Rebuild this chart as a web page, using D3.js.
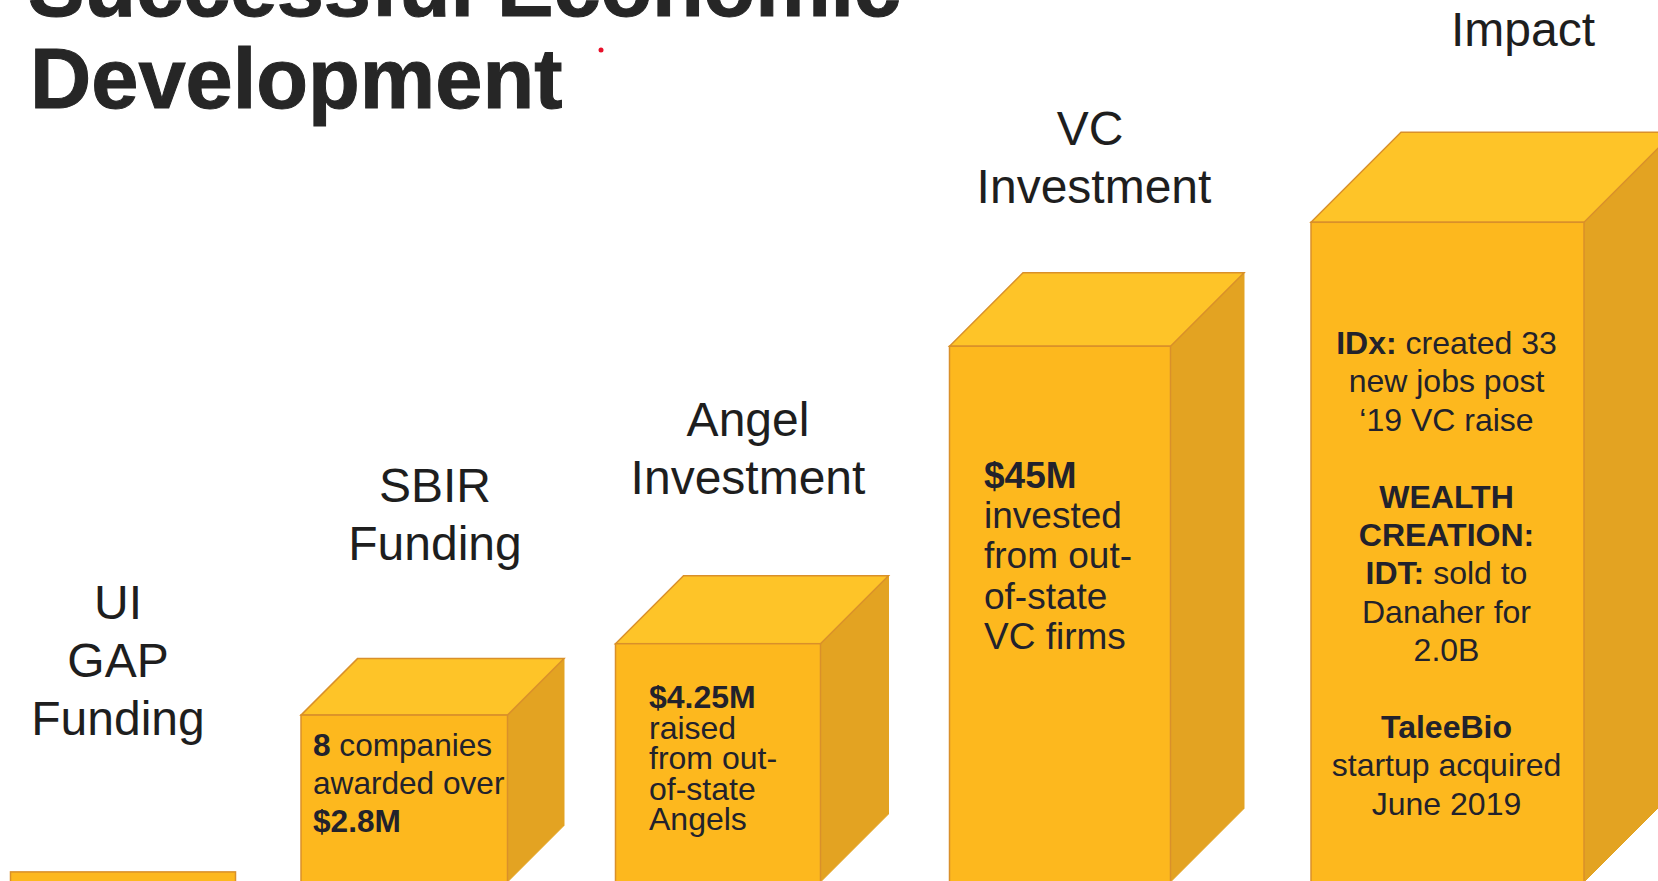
<!DOCTYPE html>
<html><head><meta charset="utf-8">
<script src="https://cdn.jsdelivr.net/npm/d3@7"></script>
<style>html,body{margin:0;padding:0;background:#fff;overflow:hidden}svg{display:block}text{font-family:"Liberation Sans",Arial,sans-serif}</style>
</head><body><svg id="c" width="1658" height="881"></svg>
<script>
// (no axis in the reference: relative units, 0-100)
const stages = ["UI GAP Funding","SBIR Funding","Angel Investment","VC Investment","Impact"];
const stageHeights = [1.3, 23.7, 33.9, 76.4, 94.1];
const stageStarts  = [10.5, 301, 615.5, 949.5, 1311];
const stageWidths  = [225, 206.5, 205, 221, 273];
const stageDepths  = [0, 56.5, 68, 73.5, 90];
const stageLabels = [["UI","GAP","Funding"],["SBIR","Funding"],["Angel","Investment"],["VC","Investment"],["Impact"]];
const stageNotes = [
  [],
  ["**8** companies","awarded over","**$2.8M**"],
  ["**$4.25M**","raised","from out-","of-state","Angels"],
  ["**$45M**","invested","from out-","of-state","VC firms"],
  ["**IDx:** created 33","new jobs post","‘19 VC raise","","**WEALTH**","**CREATION:**","**IDT:** sold to","Danaher for","2.0B","","**TaleeBio**","startup acquired","June 2019"]
];
const titleLines = ["Successful Economic","Development"];

// layout
const labelBase = [619,502,436,145,46], labelCx=[118,435,748,1094,1523], labelStep=58;
const noteX=[0,313,649,984,1446.5], noteBase=[0,756,708,487.5,354], noteStep=[0,38,30.6,40.4,38.4], noteSize=[0,31.6,32,37,32], noteAnchor=["start","start","start","start","middle"];

const svg=d3.select("#c");
const y=d3.scaleLinear().domain([0,100]).range([881,181]);
const x=d3.scaleLinear().domain([0,1658]).range([0,1658]);
const line=d3.line();
const stroke="#d9902a";

const g=svg.selectAll("g.bar").data(stages).join("g").attr("class","bar");
g.each(function(_,i){
  const s=d3.select(this), l=x(stageStarts[i]), r=x(stageStarts[i]+stageWidths[i]), t=y(stageHeights[i]), b=y(0)+1, d=stageDepths[i];
  if(d){
    s.append("path").attr("d",line([[r,t],[r+d,t-d],[r+d,b-d],[r,b]])+"Z").attr("fill","#e3a322").attr("stroke","#e3a322").attr("stroke-width",1);
    s.append("path").attr("d",line([[l,t],[l+d,t-d],[r+d,t-d],[r,t]])+"Z").attr("fill","#fec428").attr("stroke",stroke).attr("stroke-width",1.5);
  }
  s.append("rect").attr("x",l).attr("y",t).attr("width",r-l).attr("height",b+10-t).attr("fill","#fdb81e").attr("stroke",stroke).attr("stroke-width",1.5);
});
svg.selectAll("text.title").data(titleLines).join("text").attr("class","title")
  .attr("x",(d,i)=>i?30:28).attr("y",(d,i)=>16+i*92).attr("font-size",84.8).attr("font-weight",700)
  .attr("letter-spacing",(d,i)=>i?0:-0.2)
  .attr("fill","#262626").attr("stroke","#262626").attr("stroke-width",1).text(d=>d);
svg.append("circle").attr("cx",601).attr("cy",50).attr("r",2.5).attr("fill","#e8102a");

stageLabels.forEach((ls,i)=>ls.forEach((t,j)=>{
  svg.append("text").attr("x",labelCx[i]-(t==="VC"?4:0)).attr("y",labelBase[i]+j*labelStep).attr("text-anchor","middle")
    .attr("font-size",48).attr("fill","#1e1e1e").text(t);
}));
stageNotes.forEach((ls,i)=>ls.forEach((t,j)=>{
  if(!t) return;
  const el=svg.append("text").attr("x",noteX[i]).attr("y",noteBase[i]+j*noteStep[i]).attr("text-anchor",noteAnchor[i])
    .attr("font-size",noteSize[i]).attr("fill","#22222c");
  t.split("**").forEach((p,k)=>{ if(p) el.append("tspan").attr("font-weight",k%2?700:400).text(p); });
}));
</script></body></html>
